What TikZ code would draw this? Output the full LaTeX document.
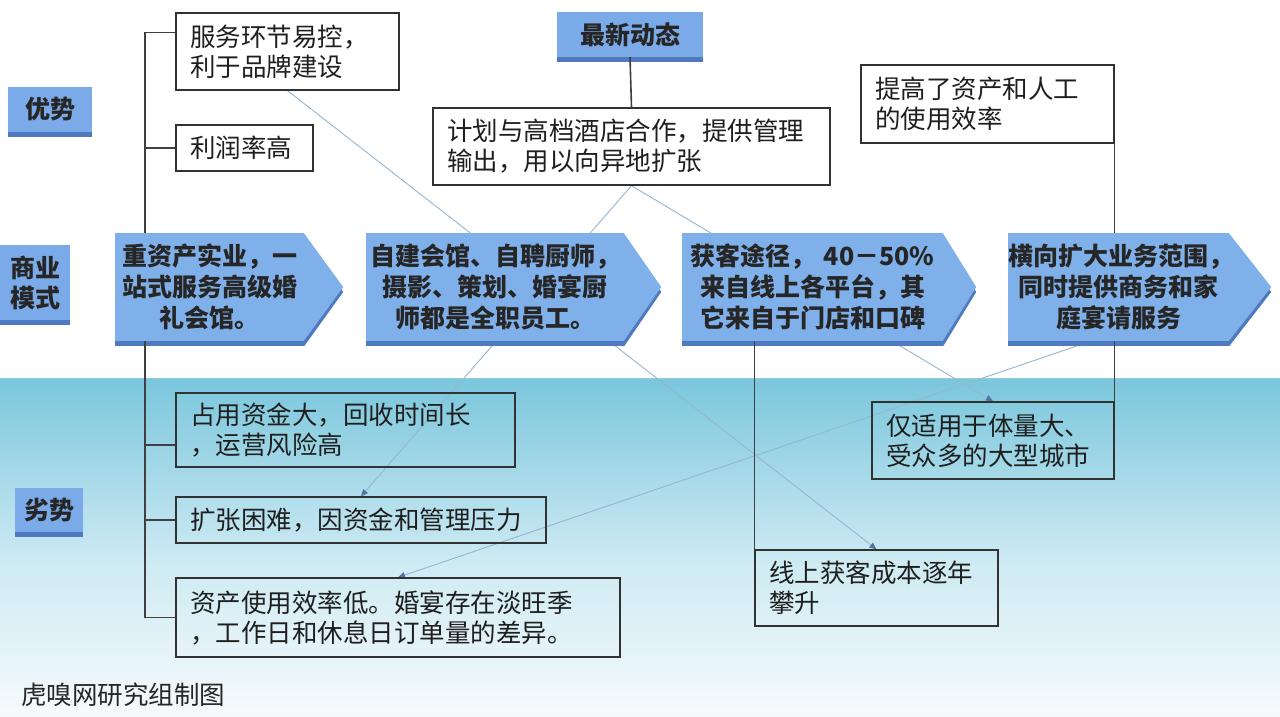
\documentclass[tikz,border=0pt]{standalone}
\usepackage{fontspec}
\setmainfont{Noto Sans CJK SC}
\usetikzlibrary{calc,arrows.meta,shadows}
\pgfdeclarelayer{bg}
\pgfsetlayers{bg,main}
\definecolor{abfill}{RGB}{128,176,234}
\definecolor{lblfill}{RGB}{122,170,232}
\definecolor{abshadow}{RGB}{80,122,192}
\definecolor{bandtop}{RGB}{122,198,220}
\definecolor{bandmid}{RGB}{205,234,243}
\definecolor{bandbot}{RGB}{246,250,252}
\definecolor{bandedge}{RGB}{150,205,222}
\definecolor{thinline}{RGB}{150,182,206}
\definecolor{tipcol}{RGB}{80,115,165}
\definecolor{boxline}{RGB}{50,50,50}
\newcommand\mkarrowtip[2]{%
  \coordinate (#1t) at ($(#1.east)+(#2,0)$);
  \fill[abshadow] ([yshift=-5pt]#1.north east) -- ([yshift=-5pt]#1t) -- ([yshift=-5pt]#1.south east) -- cycle;
  \fill[abfill] ([xshift=-0.6pt]#1.north east) -- (#1t) -- ([xshift=-0.6pt]#1.south east) -- cycle;
}
\tikzset{
  wbox/.style={draw=boxline, line width=1.3pt, inner xsep=14pt, inner ysep=0pt,
    align=left, font=\fontsize{25.5}{30}\selectfont, text=black!88},
  wfill/.style={fill=white},
  abody/.style={fill=abfill, inner sep=0pt, align=center, minimum height=108pt,
    font=\bfseries\fontsize{25}{31}\selectfont, text=black!85,
    drop shadow={shadow xshift=0pt, shadow yshift=-5pt, fill=abshadow, opacity=1}},
  lbl/.style={fill=lblfill, inner sep=0pt, align=center,
    font=\bfseries\fontsize{25}{30}\selectfont, text=black!85,
    drop shadow={shadow xshift=0pt, shadow yshift=-5pt, fill=abshadow, opacity=1}},
  brk/.style={draw=black!75, line width=1.6pt},
  conn/.style={draw=thinline, line width=0.9pt, -{Triangle[length=7pt,width=6pt,color=tipcol]}},
}
\begin{document}
\begin{tikzpicture}[x=1pt,y=-1pt]
\useasboundingbox (0,0) rectangle (1280,716);
\begin{pgfonlayer}{bg}
  \fill[white] (0,0) rectangle (1280,716);
  \shade[top color=bandtop, bottom color=bandmid] (0,378) rectangle (1280,560);
  \shade[top color=bandmid, bottom color=bandbot] (0,559.5) rectangle (1280,716);
  \draw[bandedge, line width=1.5pt] (0,378.5) -- (1280,378.5);
\end{pgfonlayer}

% label boxes
\node[lbl, minimum width=84pt, minimum height=45pt] (L1) at (50,109.5) {优势};
\node[lbl, minimum width=70pt, minimum height=75pt] (L2) at (35,282.5) {商业\\模式};
\node[lbl, minimum width=68pt, minimum height=44pt] (L3) at (49,510) {劣势};
\node[lbl, minimum width=146pt, minimum height=45pt] (n) at (630,34.5) {最新动态};

% top boxes
\node[wbox, wfill, text width=195pt, minimum height=77pt] (s1) at (287.5,51.5) {服务环节易控，\\利于品牌建设};
\node[wbox, wfill, text width=109pt, minimum height=46pt] (s2) at (244.5,148) {利润率高};
\node[wbox, wfill, text width=369pt, minimum height=77pt] (p) at (631.5,146.5) {计划与高档酒店合作，提供管理\\输出，用以向异地扩张};
\node[wbox, wfill, text width=225pt, minimum height=78pt] (r1) at (987.5,104) {提高了资产和人工\\的使用效率};

% bottom boxes
\node[wbox, text width=311pt, minimum height=74pt] (w1) at (345.5,430) {占用资金大，回收时间长\\，运营风险高};
\node[wbox, text width=342pt, minimum height=46pt] (w2) at (361,520) {扩张困难，因资金和管理压力};
\node[wbox, text width=416pt, minimum height=79pt] (w3) at (398,617.5) {资产使用效率低。婚宴存在淡旺季\\，工作日和休息日订单量的差异。};
\node[wbox, text width=214pt, minimum height=77pt] (r2) at (993,440.5) {仅适用于体量大、\\受众多的大型城市};
\node[wbox, text width=215pt, minimum height=76pt] (l2) at (876.5,588) {线上获客成本逐年\\攀升};

% arrows (business model)
\node[abody, text width=189pt] (a1) at (209.5,287) {重资产实业，一\\站式服务高级婚\\礼会馆。};
\mkarrowtip{a1}{39}
\node[abody, text width=258pt] (a2) at (495,287) {自建会馆、自聘厨师，\\摄影、策划、婚宴厨\\师都是全职员工。};
\mkarrowtip{a2}{37}
\node[abody, text width=261pt] (a3) at (812.5,287) {获客途径， 40－50\%\\来自线上各平台，其\\它来自于门店和口碑};
\mkarrowtip{a3}{33}
\node[abody, text width=221pt] (a4) at (1118.5,287) {横向扩大业务范围，\\同时提供商务和家\\庭宴请服务};
\mkarrowtip{a4}{42}

% thin connectors behind
\begin{pgfonlayer}{bg}
  \draw[conn] (s1.south) -- (l2.north);
  \draw[conn] (p.south) -- (w2.north);
  \draw[conn] (p.south) -- (r2.north);
  \draw[conn] ($(a4.south west)+(83,0)$) -- (w3.north);
\end{pgfonlayer}

% bracket lines
\coordinate (sp) at (145,0);
\draw[brk] ($(s1.north west)+(0,20)$) -| (sp |- a1.north);
\draw[brk] (s2.west) -- (s2.west -| sp);
\draw[brk] (sp |- a1.south) |- (w3.west);
\draw[brk] ([yshift=-15pt]w1.west) -- ([yshift=-15pt]w1.west -| sp);
\draw[brk] (w2.west) -- (w2.west -| sp);
\draw[brk] (n.south) -- (p.north);
\draw[brk] (r1.south east) -- (r1.south east |- a4.north);
\draw[brk] (r2.north east |- a4.south) -- (r2.north east);
\draw[brk] (l2.north west |- a3.south) -- (l2.north west);

% footer
\node[anchor=west, inner sep=0pt, font=\fontsize{25.5}{28}\selectfont, text=black!85] (ft) at (21,695) {虎嗅网研究组制图};
\end{tikzpicture}
\end{document}
